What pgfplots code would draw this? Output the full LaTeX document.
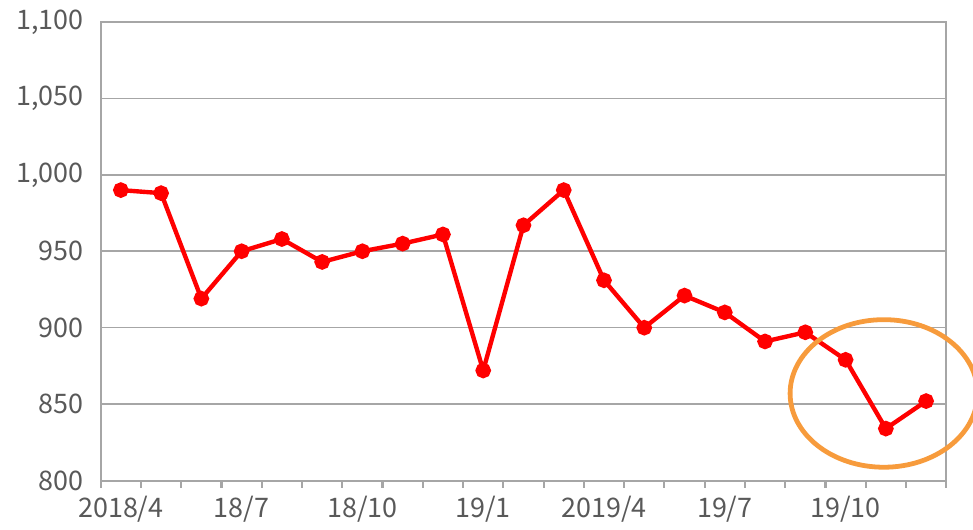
\documentclass[border=0pt]{standalone}
\usepackage{pgfplots}
\pgfplotsset{compat=1.18}
\usepackage{fontspec}
\setmainfont{Noto Sans CJK JP}
\definecolor{txt}{HTML}{595959}
\definecolor{gridc}{HTML}{A6A6A6}
\definecolor{ora}{HTML}{F79B3C}
\begin{document}
\begin{tikzpicture}
\begin{axis}[
  scale only axis,
  width=424bp, height=230bp,
  xmin=-0.5, xmax=20.5,
  ymin=800, ymax=1100,
  ytick={800,850,...,1100},
  xtick={-0.5,0.5,...,20.5},
  xticklabels={2018/4,,,18/7,,,18/10,,,19/1,,,2019/4,,,19/7,,,19/10,,,},
  xtick pos=bottom, ytick pos=left,
  major tick length=3.5bp,
  every tick/.append style={draw=gridc, line width=1.1bp},
  y tick style={draw=none},
  tick align=outside,
  ymajorgrids,
  grid style={gridc, line width=0.8bp},
  axis line style={gridc, line width=1bp},
  ticklabel style={font=\fontsize{13.5bp}{15bp}\selectfont, text=txt},
  yticklabel style={xshift=-1.5bp},
  xticklabel style={xshift=10.1bp, yshift=-1bp},
  /pgf/number format/assume math mode=true,
  /pgf/number format/1000 sep={,},
  clip=false,
]
\addplot[red, line width=2.2bp, mark=*, mark size=2.8bp, mark options={solid, fill=red, draw=red}]
coordinates {
(0,990) (1,988) (2,919) (3,950) (4,958) (5,943) (6,950) (7,955) (8,961) (9,872)
(10,967) (11,990) (12,931) (13,900) (14,921) (15,910) (16,891) (17,897) (18,879)
(19,834) (20,852)
};
\draw[ora, line width=2.4bp, overlay] (axis cs:18.95,857) ellipse [x radius=47bp, y radius=37bp];
\path (rel axis cs:1,1) ++(12bp,11bp) coordinate (tr);
\path (rel axis cs:0,0) ++(-50.5bp,-20.5bp) coordinate (bl);
\path (tr) circle (0pt) (bl) circle (0pt);
\end{axis}
\end{tikzpicture}
\end{document}
